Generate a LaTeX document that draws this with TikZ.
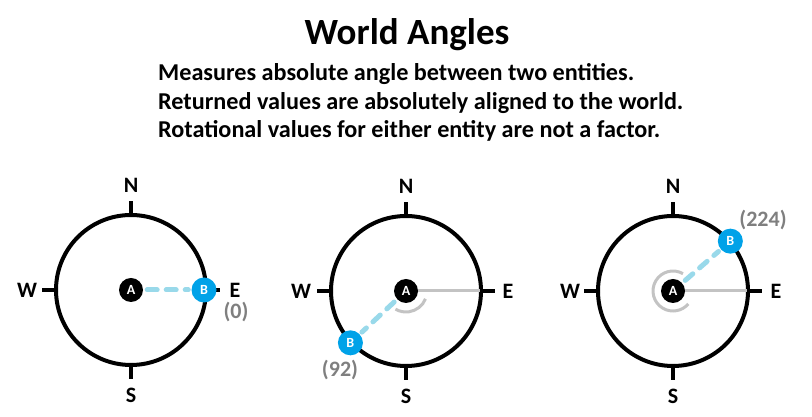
\documentclass[tikz,border=0pt]{standalone}
\usepackage{fontspec}
\setmainfont{Carlito}
\usetikzlibrary{arrows}

\definecolor{pointblue}{HTML}{00A2E8}
\definecolor{dashblue}{HTML}{99D9EA}
\definecolor{sweepgray}{HTML}{C3C3C3}
\definecolor{valgray}{HTML}{7F7F7F}

\begin{document}
\begin{tikzpicture}[x=1pt,y=1pt]
						\tikzstyle{ring}=[draw=black, line width = 4pt]
						\tikzstyle{tick}=[draw=black, line width = 4pt]
						\tikzstyle{dir}=[font=\fontsize{22}{24}\selectfont\bfseries, inner sep=0pt]
						\tikzstyle{val}=[font=\fontsize{22}{24}\selectfont\bfseries, text=valgray, inner sep=0pt]
						\tikzstyle{pointA}=[circle, fill=black, minimum size=24pt, inner sep=0pt, text=white, font=\fontsize{14}{14}\selectfont\bfseries]
						\tikzstyle{pointB}=[circle, fill=pointblue, minimum size=25pt, inner sep=0pt, text=white, font=\fontsize{14}{14}\selectfont\bfseries]
						\tikzstyle{link}=[dashblue, line width = 5pt, line cap=round, dash pattern=on 10pt off 9pt, shorten <=4pt, shorten >=3pt]
						\tikzstyle{sweep}=[sweepgray, line width = 3pt]
						\useasboundingbox (0,0) rectangle (812,417);
						% heading
						\path (407,372) node[anchor=base, font=\fontsize{37}{40}\selectfont\bfseries] (title) {World Angles};
						\path (158,336) node[anchor=base west, font=\fontsize{24.2}{28}\selectfont\bfseries, inner sep=0pt] (line1) {Measures absolute angle between two entities.};
						\path (158,307) node[anchor=base west, font=\fontsize{24.2}{28}\selectfont\bfseries, inner sep=0pt] (line2) {Returned values are absolutely aligned to the world.};
						\path (158,279) node[anchor=base west, font=\fontsize{24.2}{28}\selectfont\bfseries, inner sep=0pt] (line3) {Rotational values for either entity are not a factor.};
						% first compass
						\path (131,127) coordinate (c1);
						\draw[ring] (c1) circle (75pt);
						\draw[tick] (c1) ++(0,73) -- ++(0,16);
						\draw[tick] (c1) ++(0,-73) -- ++(0,-16);
						\draw[tick] (c1) ++(73,0) -- ++(16,0);
						\draw[tick] (c1) ++(-73,0) -- ++(-16,0);
						\path (c1) ++(0,105) node[dir] (n1) {N};
						\path (c1) ++(0,-105) node[dir] (s1) {S};
						\path (c1) ++(104,0) node[dir] (e1) {E};
						\path (c1) ++(-104,0) node[dir] (w1) {W};
						\path (c1) node[pointA] (a1) {A};
						\path (c1) ++(0:73) node[pointB] (b1) {B};
						\draw[link] (a1) -- (b1);
						\path (236,105) node[val] (v1) {(0)};
						% second compass
						\path (406,126) coordinate (c2);
						\draw[ring] (c2) circle (75pt);
						\draw[tick] (c2) ++(0,73) -- ++(0,16);
						\draw[tick] (c2) ++(0,-73) -- ++(0,-16);
						\draw[tick] (c2) ++(73,0) -- ++(16,0);
						\draw[tick] (c2) ++(-73,0) -- ++(-16,0);
						\path (c2) ++(0,105) node[dir] (n2) {N};
						\path (c2) ++(0,-105) node[dir] (s2) {S};
						\path (c2) ++(102,0) node[dir] (e2) {E};
						\path (c2) ++(-105,0) node[dir] (w2) {W};
						\path (c2) node[pointA] (a2) {A};
						\path (c2) ++(223:76) node[pointB] (b2) {B};
						\path (c2) ++(74,0) coordinate (r2);
						\draw[sweep] (a2) -- (r2);
						\draw[sweep] (c2) ++(-22:21) arc[start angle=-22, end angle=-120, radius=21pt];
						\draw[link] (a2) -- (b2);
						\path (340,47) node[val] (v2) {(92)};
						% third compass
						\path (673,126) coordinate (c3);
						\draw[ring] (c3) circle (75pt);
						\draw[tick] (c3) ++(0,73) -- ++(0,16);
						\draw[tick] (c3) ++(0,-73) -- ++(0,-16);
						\draw[tick] (c3) ++(73,0) -- ++(16,0);
						\draw[tick] (c3) ++(-73,0) -- ++(-16,0);
						\path (c3) ++(0,105) node[dir] (n3) {N};
						\path (c3) ++(0,-105) node[dir] (s3) {S};
						\path (c3) ++(103,0) node[dir] (e3) {E};
						\path (c3) ++(-103,0) node[dir] (w3) {W};
						\path (c3) node[pointA] (a3) {A};
						\path (c3) ++(41:76) node[pointB] (b3) {B};
						\path (c3) ++(74,0) coordinate (r3);
						\draw[sweep] (a3) -- (r3);
						\draw[sweep] (c3) ++(60:20) arc[start angle=60, end angle=320, radius=20pt];
						\draw[link] (a3) -- (b3);
						\path (763,197) node[val] (v3) {(224)};
		    	\end{tikzpicture}
\end{document}
